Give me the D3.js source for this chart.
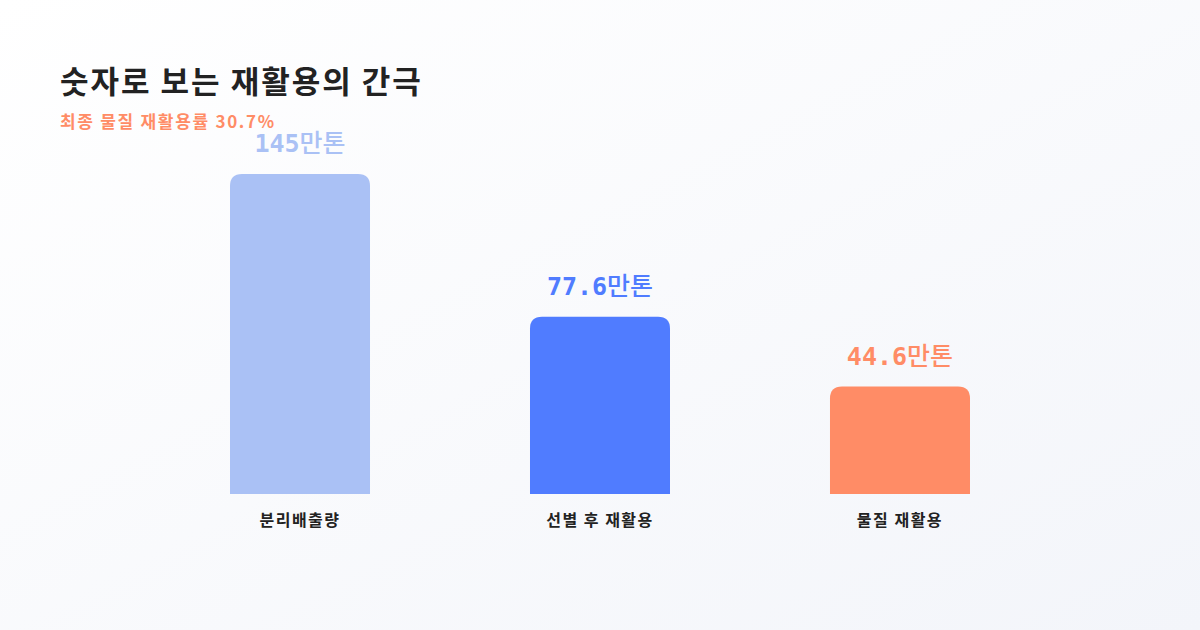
<!DOCTYPE html><html><head><meta charset="utf-8">
<script src="https://cdn.jsdelivr.net/npm/d3@7"></script>
<style>body{margin:0}svg{display:block}</style></head><body><svg id="c" width="1200" height="630"></svg>
<script>
const categories=["분리배출량","선별 후 재활용","물질 재활용"];
const values=[145,77.6,44.6];
const valueLabels=["145","77.6","44.6"];
const colors=["#aac1f5","#507cff","#ff8c66"];
const svg=d3.select("#c");
const defs=svg.append("defs");
const g=defs.append("linearGradient").attr("id","bg").attr("x1","0").attr("y1","0").attr("x2","1").attr("y2","1");
g.append("stop").attr("offset","0").attr("stop-color","#ffffff");
g.append("stop").attr("offset","1").attr("stop-color","#f3f5fa");
svg.append("rect").attr("width",1200).attr("height",630).attr("fill","url(#bg)");
const font="'Noto Sans CJK KR','Noto Sans',sans-serif";
svg.append("text").attr("x",60).attr("y",93).attr("font-family",font).attr("font-weight",700).attr("font-size",31).attr("letter-spacing",2).attr("fill","#222").text("숫자로 보는 재활용의 간극");
svg.append("text").attr("x",60).attr("y",128).attr("font-family",font).attr("font-weight",700).attr("font-size",17).attr("letter-spacing",1.7).attr("fill","#ff8c66").text("최종 물질 재활용률 30.7%");
const x=d3.scaleBand().domain(categories).range([150,1050]).paddingInner(0.5333).paddingOuter(0.2667);
const base=494;
const h=d3.scaleLinear().domain([0,145]).range([13,320]);
const bars=svg.selectAll("g.b").data(values).join("g");
bars.append("path").attr("fill",(d,i)=>colors[i]).attr("d",(d,i)=>{
 const x0=x(categories[i]),w=x.bandwidth(),t=base-h(d),r=12;
 return `M${x0},${base}V${t+r}Q${x0},${t} ${x0+r},${t}H${x0+w-r}Q${x0+w},${t} ${x0+w},${t+r}V${base}Z`;});
const vt=bars.append("text").attr("text-anchor","middle").attr("x",(d,i)=>x(categories[i])+x.bandwidth()/2).attr("y",d=>base-h(d)-22).attr("fill",(d,i)=>colors[i]).attr("font-size",25).attr("font-weight",700);
vt.append("tspan").attr("font-family","'DejaVu Sans Mono',monospace").text((d,i)=>valueLabels[i]);
vt.append("tspan").attr("font-family",font).attr("font-weight",500).text("만톤");
bars.append("text").attr("text-anchor","middle").attr("x",(d,i)=>x(categories[i])+x.bandwidth()/2).attr("y",526).attr("font-family",font).attr("font-weight",700).attr("font-size",16).attr("letter-spacing",1.5).attr("fill","#222").text((d,i)=>categories[i]);
</script></body></html>
